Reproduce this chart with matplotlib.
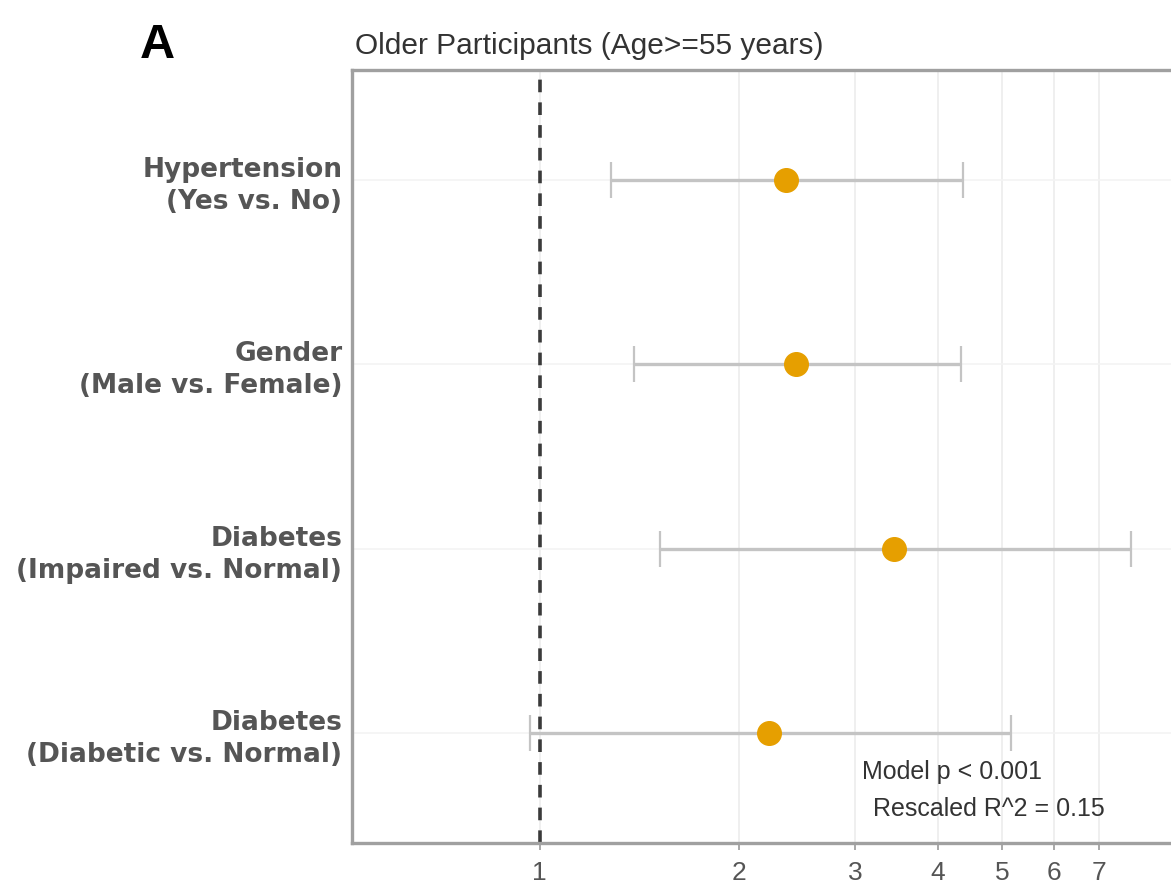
import matplotlib
matplotlib.use("Agg")
import matplotlib.pyplot as plt
import numpy as np

plt.rcParams['font.family'] = ['Liberation Sans', 'DejaVu Sans']

labels = ["Hypertension\n(Yes vs. No)", "Gender\n(Male vs. Female)",
          "Diabetes\n(Impaired vs. Normal)", "Diabetes\n(Diabetic vs. Normal)"]
odds_ratio = [2.36, 2.44, 3.43, 2.22]
ci_low = [1.28, 1.39, 1.52, 0.966]
ci_high = [4.37, 4.33, 7.83, 5.15]
xticks = [1, 2, 3, 4, 5, 6, 7]
title = "Older Participants (Age>=55 years)"
panel = "A"
note1 = "Model p < 0.001"
note2 = "Rescaled R^2 = 0.15"

W, H = 1171, 885
fig = plt.figure(figsize=(W / 100, H / 100), dpi=100)
left, right, top, bottom = 352, 1174, 70, 843
ax = fig.add_axes([left / W, 1 - bottom / H, (right - left) / W, (bottom - top) / H])

ypos = np.arange(1, len(labels) + 1)
ax.set_xscale('log')
ax.set_xlim(0.52, 9.1)
ax.set_ylim(len(labels) + 0.6, 0.4)

for x in xticks:
    ax.axvline(x, color='#efefef', lw=1.4, zorder=0)
for y in ypos:
    ax.axhline(y, color='#f3f3f3', lw=1.2, zorder=0)

ax.axvline(1, color='#3a3a3a', lw=2.6, ls=(0, (3.5, 2.8)), zorder=1)

err = [np.array(odds_ratio) - np.array(ci_low), np.array(ci_high) - np.array(odds_ratio)]
ax.errorbar(odds_ratio, ypos, xerr=err, fmt='none', ecolor='#c4c4c4', elinewidth=2.4,
            capsize=13, capthick=1.6, zorder=2)
ax.plot(odds_ratio, ypos, 'o', color='#E69F00', ms=17, mec='#E69F00', zorder=3)

ax.set_xticks(xticks)
ax.set_xticklabels([str(t) for t in xticks])
ax.xaxis.set_minor_locator(matplotlib.ticker.NullLocator())
ax.set_yticks(ypos)
ax.set_yticklabels(labels, fontweight='bold', color='#555555', fontsize=19,
                   linespacing=1.3, family=['DejaVu Sans'])
ax.tick_params(axis='y', length=0, pad=7)
ax.tick_params(axis='x', length=5, width=1.2, color='#999999', labelsize=19,
               labelcolor='#555555', pad=8)

for s in ax.spines.values():
    s.set_color('#a0a0a0')
    s.set_linewidth(2.4)

fig.text(952 / W, 1 - 772 / H, note1, ha='center', va='center', fontsize=18, color='#333333')
fig.text(989 / W, 1 - 809 / H, note2, ha='center', va='center', fontsize=18, color='#333333')

fig.text(355 / W, 1 - 46 / H, title, ha='left', va='center', fontsize=21.5, color='#333333')
fig.text(157 / W, 1 - 45 / H, panel, ha='center', va='center', fontsize=35,
         fontweight='bold', color='black')

fig.savefig("out.png", dpi=100)
